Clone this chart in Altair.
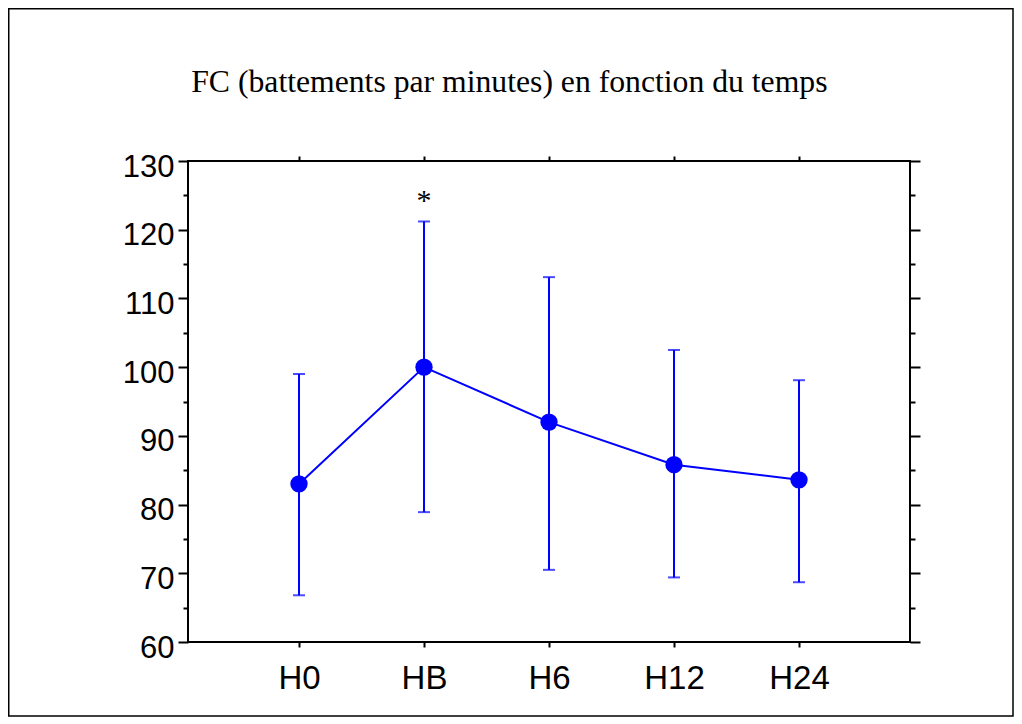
import altair as alt
import pandas as pd

# ---- data ----
times = ["H0", "HB", "H6", "H12", "H24"]
fc_mean = [83.0, 100.0, 92.0, 85.8, 83.6]
fc_upper = [99.0, 121.2, 113.1, 102.5, 98.1]
fc_lower = [66.8, 78.9, 70.5, 69.4, 68.7]

star_times = ["HB"]
star_values = [122.8]
star_labels = ["*"]

title_text = "FC (battements par minutes) en fonction du temps"
y_major = [60, 70, 80, 90, 100, 110, 120, 130]
y_minor = [65, 75, 85, 95, 105, 115, 125]

df = pd.DataFrame({"time": times, "mean": fc_mean, "upper": fc_upper, "lower": fc_lower})
star_df = pd.DataFrame({"time": star_times, "value": star_values, "label": star_labels})

BLUE = "#0000ff"
x_scale = alt.Scale(type="point", domain=times, padding=0.888)
y_scale = alt.Scale(domain=[60, 130], nice=False, zero=False)

tick_style = dict(tickWidth=2, tickColor="black", domain=False, grid=False, title=None)

left_axis = alt.Axis(
    orient="left", values=y_major, labelOverlap=False, tickSize=10,
    labelFont="Liberation Sans", labelFontSize=31, labelColor="black", labelPadding=4,
    labelBaseline="middle", labelOffset=6, **tick_style,
)
left_minor = alt.Axis(orient="left", values=y_minor, labels=False, tickSize=5, **tick_style)
right_axis = alt.Axis(orient="right", values=y_major, labels=False, tickSize=10, **tick_style)
right_minor = alt.Axis(orient="right", values=y_minor, labels=False, tickSize=5, **tick_style)
bottom_axis = alt.Axis(
    orient="bottom", tickSize=5, labelFont="Liberation Sans", labelFontSize=33,
    labelColor="black", labelPadding=15, labelAngle=0, **tick_style,
)
top_axis = alt.Axis(orient="top", labels=False, tickSize=5, **tick_style)


def X(axis):
    return alt.X("time:N", scale=x_scale, axis=axis, sort=times)


def Y(field, axis=left_axis):
    return alt.Y(field, scale=y_scale, axis=axis)


LW = 2
base_chart = alt.Chart(df)
line = base_chart.mark_line(color=BLUE, strokeWidth=LW).encode(x=X(bottom_axis), y=Y("mean:Q"))
bars = base_chart.mark_rule(color=BLUE, strokeWidth=LW).encode(
    x=X(bottom_axis), y=Y("lower:Q"), y2="upper:Q")
cap_hi = base_chart.mark_tick(color=BLUE, size=12, thickness=LW).encode(x=X(bottom_axis), y=Y("upper:Q"))
cap_lo = base_chart.mark_tick(color=BLUE, size=12, thickness=LW).encode(x=X(bottom_axis), y=Y("lower:Q"))
points = base_chart.mark_circle(color=BLUE, size=300, opacity=1).encode(x=X(bottom_axis), y=Y("mean:Q"))
star = alt.Chart(star_df).mark_text(
    font="Liberation Serif", fontSize=30, color="black", baseline="alphabetic"
).encode(x=X(bottom_axis), y=Y("value:Q"), text="label:N")

main = alt.layer(line, bars, cap_hi, cap_lo, points, star)

ov_right = base_chart.mark_point(opacity=0).encode(x=X(top_axis), y=Y("mean:Q", right_axis))
ov_lminor = base_chart.mark_point(opacity=0).encode(x=X(None), y=Y("mean:Q", left_minor))
ov_rminor = base_chart.mark_point(opacity=0).encode(x=X(None), y=Y("mean:Q", right_minor))

border = alt.Chart(pd.DataFrame({"b": [0]})).mark_rect(
    fillOpacity=0, stroke="black", strokeWidth=1.5
).encode(x=alt.value(-179.25), x2=alt.value(825), y=alt.value(-152.25), y2=alt.value(555))

chart = alt.layer(main, ov_right, ov_lminor, ov_rminor, border).resolve_scale(
    x="independent", y="independent"
).properties(
    width=722, height=481, padding=0,
    title=alt.TitleParams(
        text=title_text, font="Liberation Serif", fontSize=31.7, fontWeight="normal",
        color="black", anchor="middle", frame="bounds", baseline="alphabetic",
        offset=-115.5, dx=-1.5,
    ),
).configure_view(stroke="black", strokeWidth=2)

chart.save("out.html", embed_options={"renderer": "svg", "actions": False})
